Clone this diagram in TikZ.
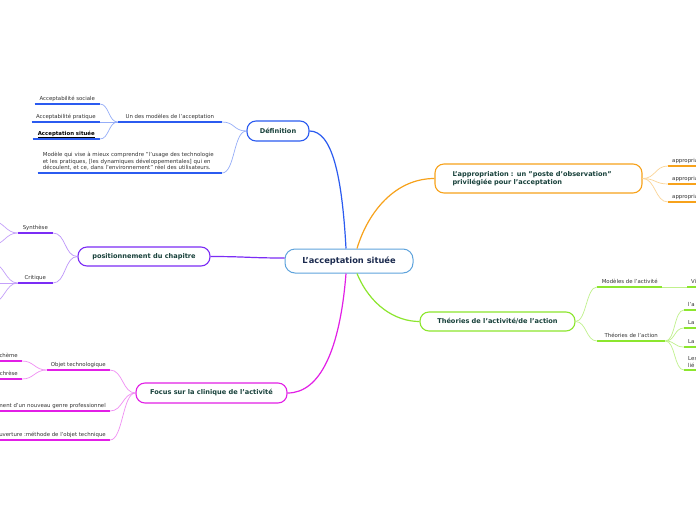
\documentclass[tikz,border=0pt]{standalone}
\usepackage{fontspec}
\setmainfont{DejaVu Sans}
\usetikzlibrary{calc}
\definecolor{cblue}{HTML}{2B5BF0}
\definecolor{cpurple}{HTML}{7B2CF5}
\definecolor{cmag}{HTML}{E21FE6}
\definecolor{corange}{HTML}{F7A21B}
\definecolor{cgreen}{HTML}{8CE62E}
\definecolor{ccentral}{HTML}{5EA3DC}
\definecolor{nodetext}{HTML}{17403A}
\definecolor{ctext}{HTML}{1B2A4E}
\definecolor{leafgray}{HTML}{333333}
\newcommand\cnL[4]{\draw[#1] (#2) .. controls +(-#4,0) and +(#4,0) .. (#3);}
\newcommand\cnR[4]{\draw[#1] (#2) .. controls +(#4,0) and +(-#4,0) .. (#3);}
\tikzset{
 leaf/.style={inner xsep=3pt, inner ysep=2.6pt, font=\fontsize{5.4}{6.6}\selectfont, text=leafgray, text height=4pt, text depth=1.2pt},
 leafmulti/.style={inner xsep=5pt, inner ysep=2.4pt, font=\fontsize{5.45}{6.5}\selectfont, text=leafgray, align=left},
 mainbox/.style={draw, rounded corners=9pt, line width=1.1pt, fill=white, font=\fontsize{6.6}{8}\selectfont\bfseries, text=nodetext, inner sep=0pt},
 ul/.style={line width=2pt},
 cn/.style={line width=0.7pt},
 trunk/.style={line width=1.2pt},
}
\begin{document}
\begin{tikzpicture}[x=1pt,y=-1pt]
\useasboundingbox (0,0) rectangle (696,520);
\clip (0,0) rectangle (696,520);
\fill[white] (0,0) rectangle (696,520);

% ---------- main nodes ----------
\node[mainbox, draw=ccentral, line width=1pt, minimum width=128pt, minimum height=24pt, rounded corners=10pt, font=\fontsize{8.3}{9.8}\selectfont\bfseries, text=ctext] (C) at (349,261) {L'acceptation située};
\node[mainbox, draw=cblue, minimum width=62pt, minimum height=20pt] (Def) at (278,131) {Définition};
\node[mainbox, draw=cpurple, minimum width=132pt, minimum height=19pt] (Pos) at (144,256.5) {positionnement du chapitre};
\node[mainbox, draw=cmag, minimum width=151pt, minimum height=20pt] (Foc) at (211.5,393) {Focus sur la clinique de l'activité};
\node[mainbox, draw=corange, minimum width=207pt, minimum height=29pt, align=left, text width=172pt] (App) at (538.5,178.5) {L'appropriation : un "poste d'observation"\\privilégiée pour l'acceptation};
\node[mainbox, draw=cgreen, minimum width=155pt, minimum height=19pt] (Theo) at (497.5,321.5) {Théories de l'activité/de l'action};

\coordinate (Cb1) at ($(C.north)+(-3,0)$);
\coordinate (Co1) at ($(C.north)+(8,0)$);
\coordinate (Cm1) at ($(C.south)+(-3,0)$);
\coordinate (Cg1) at ($(C.south)+(8,0)$);
\coordinate (Cp1) at ($(C.west)+(0,-3)$);

% ---------- trunks ----------
\draw[trunk, cblue] (Cb1) .. controls (342,175) and (332,131) .. (Def.east);
\draw[trunk, corange] (Co1) .. controls (368,212) and (395,178.5) .. (App.west);
\draw[trunk, cpurple] (Cp1) .. controls (250,258) and (245,256.5) .. (Pos.east);
\draw[trunk, cmag] (Cm1) .. controls (340,350) and (320,393) .. (Foc.east);
\draw[trunk, cgreen] (Cg1) .. controls (370,305) and (395,321.5) .. (Theo.west);

% ---------- Définition ----------
\node[leaf, anchor=south east, minimum width=104pt] (D1) at (222,122) {Un des modèles de l'acceptation};
\node[leaf, anchor=south east, minimum width=65pt] (D11) at (100,104) {Acceptabilité sociale};
\node[leaf, anchor=south east, minimum width=68pt] (D12) at (100,122) {Acceptabilité pratique};
\node[leaf, anchor=south east, minimum width=67pt, text=black, font=\fontsize{5.4}{6.6}\selectfont\bfseries] (D13) at (100,139) {\underline{Acceptation située}};
\node[leafmulti, anchor=south east, text width=174pt] (D2) at (222,173) {Modèle qui vise à mieux comprendre "l'usage des technologie\\et les pratiques, [les dynamiques développementales] qui en\\découlent, et ce, dans l'environnement" réel des utilisateurs.};
\foreach \n in {D1,D11,D12,D13,D2} \draw[ul, cblue] (\n.south west) -- (\n.south east);
\cnL{cn, cblue!50}{Def.west}{D1.south east}{13}
\cnL{cn, cblue!50}{Def.west}{D2.south east}{13}
\cnL{cn, cblue!50}{D1.south west}{D11.south east}{9}
\cnL{cn, cblue!50}{D1.south west}{D12.south east}{9}
\cnL{cn, cblue!50}{D1.south west}{D13.south east}{9}

% ---------- positionnement ----------
\node[leaf, anchor=south east, minimum width=35pt] (P1) at (53,233) {Synthèse};
\node[leaf, anchor=south east, minimum width=35pt] (P2) at (53,283) {Critique};
\foreach \n in {P1,P2} \draw[ul, cpurple] (\n.south west) -- (\n.south east);
\cnL{cn, cpurple!50}{Pos.west}{P1.south east}{13}
\cnL{cn, cpurple!50}{Pos.west}{P2.south east}{13}
\coordinate (P11) at (-8,221);
\coordinate (P12) at (-8,245);
\coordinate (P21) at (-8,263);
\coordinate (P22) at (-8,283);
\coordinate (P23) at (-8,303);
\cnL{cn, cpurple!45}{P1.south west}{P11}{12}
\cnL{cn, cpurple!45}{P1.south west}{P12}{12}
\cnL{cn, cpurple!45}{P2.south west}{P21}{12}
\cnL{cn, cpurple!45}{P2.south west}{P22}{12}
\cnL{cn, cpurple!45}{P2.south west}{P23}{12}

% ---------- Focus ----------
\node[leaf, anchor=south east, minimum width=63pt] (F1) at (110,370) {Objet technologique};
\node[leaf, anchor=south east, inner xsep=4pt] (F11) at (22,361) {Schème};
\node[leaf, anchor=south east, inner xsep=4pt] (F12) at (22,379) {Catachrèse};
\node[leaf, anchor=south east, inner xsep=4pt] (F2) at (110,411) {Développement d'un nouveau genre professionnel};
\node[leaf, anchor=south east, inner xsep=4pt] (F3) at (110,440) {Ouverture :méthode de l'objet technique};
\foreach \n in {F1,F11,F12,F2,F3} \draw[ul, cmag] (\n.south west) -- (\n.south east);
\cnL{cn, cmag!50}{Foc.west}{F1.south east}{13}
\cnL{cn, cmag!50}{Foc.west}{F2.south east}{13}
\cnL{cn, cmag!50}{Foc.west}{F3.south east}{13}
\cnL{cn, cmag!50}{F1.south west}{F11.south east}{12}
\cnL{cn, cmag!50}{F1.south west}{F12.south east}{12}

% ---------- Appropriation ----------
\node[leaf, anchor=south west, inner xsep=4pt, minimum width=50pt, align=left, text width=42pt] (A1) at (668,166) {appropriation};
\node[leaf, anchor=south west, inner xsep=4pt, minimum width=50pt, align=left, text width=42pt] (A2) at (668,184) {appropriation};
\node[leaf, anchor=south west, inner xsep=4pt, minimum width=50pt, align=left, text width=42pt] (A3) at (668,202) {appropriation};
\foreach \n in {A1,A2,A3} \draw[ul, corange] (\n.south west) -- (\n.south east);
\cnR{cn, corange!45}{App.east}{A1.south west}{13}
\cnR{cn, corange!45}{App.east}{A2.south west}{13}
\cnR{cn, corange!45}{App.east}{A3.south west}{13}

% ---------- Théories ----------
\node[leaf, anchor=south west, minimum width=65pt] (T1) at (597,287) {Modèles de l'activité};
\node[leaf, anchor=south west, minimum width=68pt] (T2) at (597,341) {Théories de l'action};
\node[leaf, anchor=south west, inner xsep=4pt, align=left, text width=30pt] (T11) at (687,287) {Vi};
\node[leaf, anchor=south west, inner xsep=4pt, align=left, text width=30pt] (T21) at (684,310) {l'a};
\node[leaf, anchor=south west, inner xsep=4pt, align=left, text width=30pt] (T22) at (684,328) {La};
\node[leaf, anchor=south west, inner xsep=4pt, align=left, text width=30pt] (T23) at (684,347) {La};
\node[leafmulti, anchor=south west, inner xsep=4pt, text width=30pt] (T24) at (684,370) {Les\\lié};
\foreach \n in {T1,T2,T11,T21,T22,T23,T24} \draw[ul, cgreen] (\n.south west) -- (\n.south east);
\cnR{cn, cgreen!55}{Theo.east}{T1.south west}{11}
\cnR{cn, cgreen!55}{Theo.east}{T2.south west}{11}
\draw[cn, cgreen!55] (T1.south east) -- (T11.south west);
\cnR{cn, cgreen!55}{T2.south east}{T21.south west}{10}
\cnR{cn, cgreen!55}{T2.south east}{T22.south west}{10}
\cnR{cn, cgreen!55}{T2.south east}{T23.south west}{10}
\cnR{cn, cgreen!55}{T2.south east}{T24.south west}{10}
\end{tikzpicture}
\end{document}
